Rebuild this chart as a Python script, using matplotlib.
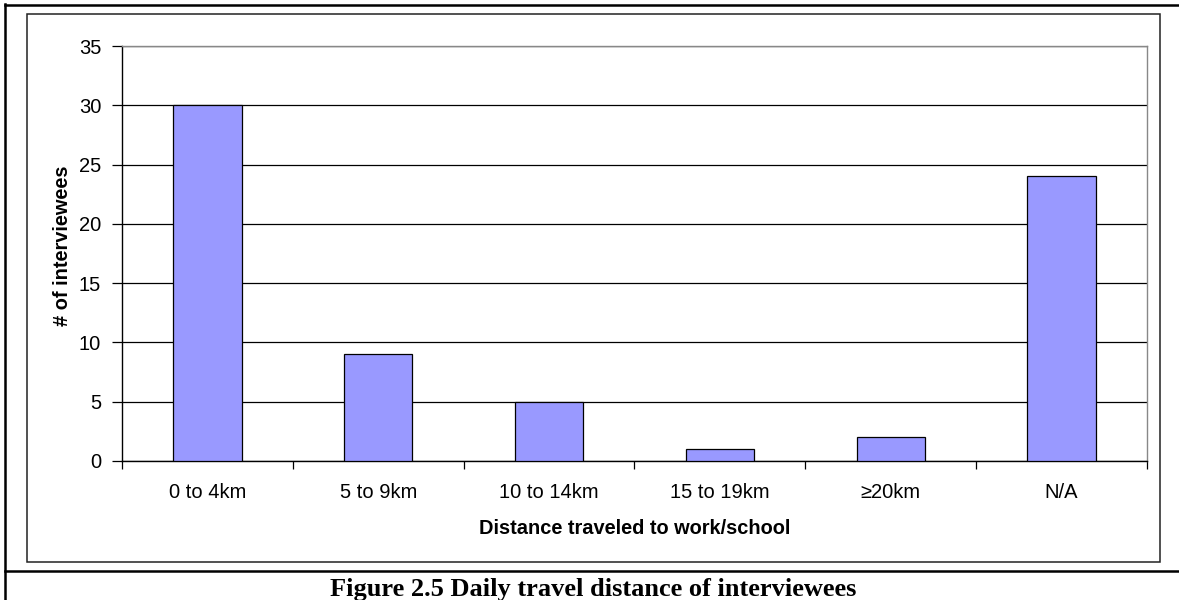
import matplotlib
matplotlib.use("Agg")
import matplotlib.pyplot as plt
from matplotlib.lines import Line2D
from matplotlib.patches import Rectangle

categories = ["0 to 4km", "5 to 9km", "10 to 14km", "15 to 19km", "\u226520km", "N/A"]
counts = [30, 9, 5, 1, 2, 24]
y_ticks = [0, 5, 10, 15, 20, 25, 30, 35]

W, H = 1179, 600
fig = plt.figure(figsize=(W / 100, H / 100), dpi=100)
fig.patch.set_facecolor("white")


def fx(px):
    return px / W


def fy(py):
    return 1 - py / H


# page frame: outer rules and the caption row divider
fig.add_artist(Line2D([fx(5), fx(W)], [fy(5), fy(5)], color="black", lw=1.8))
fig.add_artist(Line2D([fx(5), fx(5)], [fy(4), fy(H)], color="black", lw=1.8))
fig.add_artist(Line2D([fx(5), fx(W)], [fy(571), fy(571)], color="black", lw=1.8))

# chart area box
fig.add_artist(Rectangle((fx(27), fy(562)), fx(1160) - fx(27), fy(14) - fy(562),
                         fill=False, edgecolor="#222222", lw=1.1))

left, right, top, bottom = 122, 1147, 46, 461
ax = fig.add_axes([fx(left), fy(bottom), fx(right) - fx(left), fy(top) - fy(bottom)])

x = list(range(len(categories)))
ax.bar(x, counts, width=0.40, color="#9999FF", edgecolor="black", linewidth=0.9, zorder=3)

ax.set_xlim(-0.5, len(categories) - 0.5)
ax.set_ylim(0, 35)
ax.set_yticks(y_ticks)
ax.set_xticks(x)
ax.set_xticklabels(categories, fontsize=14.5, family="Liberation Sans")
for lab in ax.get_yticklabels():
    lab.set_fontsize(14.5)
    lab.set_family("Liberation Sans")

# category boundary ticks on the x axis
ax.set_xticks([i - 0.5 for i in range(len(categories) + 1)], minor=True)
ax.tick_params(axis="x", which="major", length=0, pad=16)
ax.tick_params(axis="x", which="minor", length=6, width=0.9, direction="out", color="black")
ax.tick_params(axis="y", length=7, width=0.9, direction="out", pad=8, color="black")

ax.yaxis.grid(True, color="black", linewidth=0.9, zorder=0)
ax.set_axisbelow(True)

for side in ("top", "right"):
    ax.spines[side].set_color("#888888")
    ax.spines[side].set_linewidth(1.0)
for side in ("left", "bottom"):
    ax.spines[side].set_color("black")
    ax.spines[side].set_linewidth(1.0)

fig.text(fx(634.5), fy(529), "Distance traveled to work/school", ha="center", va="center",
         fontsize=14.4, fontweight="bold", family="Liberation Sans")
fig.text(fx(63), fy(246), "# of interviewees", ha="center", va="center", rotation=90,
         fontsize=14.4, fontweight="bold", family="Liberation Sans")

fig.text(fx(593), fy(596), "Figure 2.5 Daily travel distance of interviewees", ha="center",
         va="baseline", fontsize=19, fontweight="bold", family="Liberation Serif")

fig.savefig("out.png", dpi=100, facecolor="white")
